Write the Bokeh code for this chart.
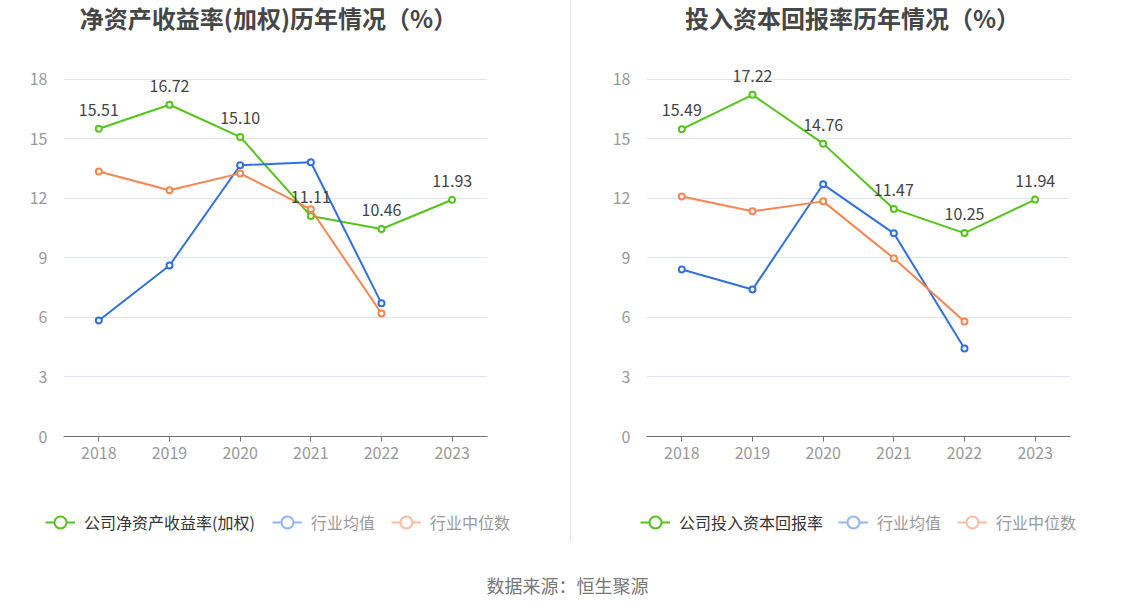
import numpy as np
from bokeh.plotting import figure
from bokeh.models import (Range1d, FactorRange, FixedTicker, Legend, LegendItem,
                          ColumnDataSource, Spacer)
from bokeh.layouts import row, column
from bokeh.embed import file_html
from bokeh.resources import INLINE
from bokeh.core.properties import value

FONT = "Noto Sans CJK SC"

years = ["2018", "2019", "2020", "2021", "2022", "2023"]
years_ind = ["2018", "2019", "2020", "2021", "2022"]

roe = [15.51, 16.72, 15.10, 11.11, 10.46, 11.93]
roe_avg = [5.85, 8.62, 13.67, 13.82, 6.71]
roe_med = [13.36, 12.41, 13.26, 11.45, 6.20]

roic = [15.49, 17.22, 14.76, 11.47, 10.25, 11.94]
roic_avg = [8.42, 7.41, 12.71, 10.24, 4.44]
roic_med = [12.10, 11.35, 11.85, 8.98, 5.80]

y_ticks = [0, 3, 6, 9, 12, 15, 18]

titles = ["净资产收益率(加权)历年情况（%）", "投入资本回报率历年情况（%）"]
legend_main = ["公司净资产收益率(加权)", "公司投入资本回报率"]
legend_avg = "行业均值"
legend_med = "行业中位数"
source_text = "数据来源：恒生聚源"

GREEN = "#52c41a"
BLUE = "#3070e0"
ORANGE = "#f6854f"
BLUE_FADE = "#93b5f3"
ORANGE_FADE = "#f9bca3"

FRAME_W = 424


def blank_fig(width, height, left=0, right=0, x0=0, x1=None):
    if x1 is None:
        x1 = width
    f = figure(width=width, height=height, x_range=Range1d(x0, x1),
               y_range=Range1d(0, height), output_backend="svg",
               toolbar_location=None, min_border=0,
               min_border_left=left, min_border_right=right)
    f.axis.visible = False
    f.grid.grid_line_color = None
    f.outline_line_color = None
    return f


def title_fig(width, left, right, text, cx):
    # frame aligned with chart frame; x data = pixel within column
    f = blank_fig(width, 40, left, right, left, left + FRAME_W)
    src = ColumnDataSource(dict(x=[cx], y=[23], t=[text]))
    f.text("x", "y", text="t", source=src, text_align="center", text_baseline="middle",
           text_font=value(FONT), text_font_size="24px", text_font_style="bold",
           text_color="#464646")
    return f


def legend_fig(width, main_label, x_main, x_rest):
    f = blank_fig(width, 60)

    def proxy(col):
        s = ColumnDataSource(dict(x=np.array([np.nan]), y=np.array([np.nan])))
        l = f.line("x", "y", source=s, line_color=col, line_width=2)
        c = f.scatter("x", "y", source=s, marker="circle", size=12, line_color=col,
                      line_width=2, fill_color="white")
        return [l, c]

    lg1 = Legend(items=[LegendItem(label=main_label, renderers=proxy(GREEN))],
                 location=(x_main, 3), orientation="horizontal")
    lg2 = Legend(items=[LegendItem(label=legend_avg, renderers=proxy(BLUE_FADE)),
                        LegendItem(label=legend_med, renderers=proxy(ORANGE_FADE))],
                 location=(x_rest, 3), orientation="horizontal")
    for lg, tc in ((lg1, "#333333"), (lg2, "#999999")):
        lg.border_line_color = None
        lg.background_fill_alpha = 0
        lg.padding = 0
        lg.margin = 0
        lg.glyph_width = 30
        lg.glyph_height = 30
        lg.label_standoff = 9
        lg.spacing = 16
        lg.label_text_font = FONT
        lg.label_text_font_size = "16px"
        lg.label_text_color = tc
        f.add_layout(lg, "center")
    return f


def make_chart(main, avg, med, width, left, right):
    p = figure(width=width, height=440, x_range=FactorRange(*years),
               y_range=Range1d(0, 19), output_backend="svg", toolbar_location=None,
               min_border_left=left, min_border_right=right,
               min_border_top=19, min_border_bottom=44)
    p.outline_line_color = None

    p.xgrid.grid_line_color = None
    p.ygrid.grid_line_color = "#e0e6f1"
    p.ygrid.grid_line_width = 1

    p.yaxis.ticker = FixedTicker(ticks=y_ticks)
    p.yaxis.axis_line_color = None
    p.yaxis.major_tick_line_color = None
    p.yaxis.minor_tick_line_color = None
    p.yaxis.major_label_text_color = "#999999"
    p.yaxis.major_label_text_font = FONT
    p.yaxis.major_label_text_font_size = "16px"
    p.yaxis.major_label_standoff = 10

    p.xaxis.axis_line_color = "#6e7079"
    p.xaxis.major_tick_line_color = "#6e7079"
    p.xaxis.major_tick_out = 5
    p.xaxis.major_tick_in = 0
    p.xaxis.minor_tick_line_color = None
    p.xaxis.major_label_text_color = "#999999"
    p.xaxis.major_label_text_font = FONT
    p.xaxis.major_label_text_font_size = "16px"
    p.xaxis.major_label_standoff = 5

    src_main = ColumnDataSource(dict(x=years, y=main, t=[f"{v:.2f}" for v in main]))
    src_avg = ColumnDataSource(dict(x=years_ind, y=avg))
    src_med = ColumnDataSource(dict(x=years_ind, y=med))

    for src, col in ((src_main, GREEN), (src_avg, BLUE), (src_med, ORANGE)):
        p.line("x", "y", source=src, line_color=col, line_width=2)
        p.scatter("x", "y", source=src, size=6, marker="circle", line_color=col,
                  line_width=2, fill_color="white")

    p.text("x", "y", text="t", source=src_main, text_align="center",
           text_baseline="bottom", y_offset=-13, text_font=value(FONT),
           text_font_size="16px", text_color="#444444")
    return p


WL, WR = 570, 555
LL, RL = 63, 83
LR, RR = 75, 56

t1 = title_fig(WL, LL, RL, titles[0], 268)
p1 = make_chart(roe, roe_avg, roe_med, WL, LL, RL)
l1 = legend_fig(WL, legend_main[0], 45, 272)

t2 = title_fig(WR, LR, RR, titles[1], 281)
p2 = make_chart(roic, roic_avg, roic_med, WR, LR, RR)
l2 = legend_fig(WR, legend_main[1], 69, 267)

sep1 = Spacer(width=1, height=480, styles={"background-color": "#e8e8e8"})
sep2 = Spacer(width=1, height=60, styles={"background-color": "#e8e8e8"})

p3 = blank_fig(WL + 1 + WR, 56)
src_txt = ColumnDataSource(dict(x=[567], y=[12], t=[source_text]))
p3.text("x", "y", text="t", source=src_txt, text_align="center", text_baseline="middle",
        text_font=value(FONT), text_font_size="18px", text_color="#777777")

layout = column(row(column(t1, p1), sep1, column(t2, p2)),
                row(l1, sep2, l2), p3)
open("out.html", "w").write(file_html(layout, INLINE))
